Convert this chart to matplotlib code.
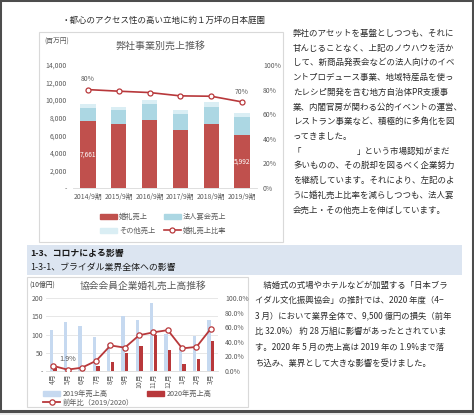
import matplotlib
matplotlib.use("Agg")
import matplotlib.pyplot as plt
from matplotlib.patches import Rectangle, Patch
from matplotlib.lines import Line2D
from matplotlib.ticker import FuncFormatter, MultipleLocator

plt.rcParams['font.family'] = ['Noto Sans CJK JP', 'DejaVu Sans']

# ---------------- data ----------------
periods = ['2014/9期', '2015/9期', '2016/9期', '2017/9期', '2018/9期', '2019/9期']
wedding_sales = [7661, 7300, 7720, 6580, 7260, 5992]
corporate_sales = [1500, 1590, 1810, 1860, 2010, 2070]
other_sales = [410, 380, 460, 410, 530, 490]
wedding_ratio = [0.80, 0.787, 0.776, 0.749, 0.746, 0.70]
bar_value_labels = ['7,661', '', '', '', '', '5,992']
ratio_labels = ['80%', '', '', '', '', '70%']

months = ['4月', '5月', '6月', '7月', '8月', '9月', '10月', '11月', '12月', '1月', '2月', '3月']
sales_2019 = [112, 133, 123, 94, 74, 150, 141, 187, 101, 59, 95, 139]
sales_2020 = [8, 2.5, 6, 14, 26, 48, 69, 98, 57, 19, 33, 82]
yoy_ratio = [0.07, 0.019, 0.045, 0.14, 0.35, 0.32, 0.49, 0.53, 0.56, 0.31, 0.33, 0.58]
yoy_labels = ['', '1.9%', '', '', '', '', '', '', '', '', '', '']

heading_top = '・都心のアクセス性の高い立地に約１万坪の日本庭園'
para_top = [
    '弊社のアセットを基盤としつつも、それに',
    '甘んじることなく、上記のノウハウを活か',
    'して、新商品発表会などの法人向けのイベ',
    'ントプロデュース事業、地域特産品を使っ',
    'たレシピ開発を含む地方自治体PR支援事',
    '業、内閣官房が関わる公的イベントの運営、',
    'レストラン事業など、積極的に多角化を図',
    'ってきました。',
    '',
    '多いものの、その脱却を図るべく企業努力',
    'を継続しています。それにより、左記のよ',
    'うに婚礼売上比率を減らしつつも、法人宴',
    '会売上・その他売上を伸ばしています。',
]
section1 = '1-3、コロナによる影響'
section2 = '1-3-1、ブライダル業界全体への影響'
para_bottom = [
    '　結婚式の式場やホテルなどが加盟する「日本ブラ',
    'イダル文化振興協会」の推計では、2020 年度（4−',
    '3 月）において業界全体で、9,500 億円の損失（前年',
    '比 32.0%） 約 28 万組に影響があったとされていま',
    'す。2020 年 5 月の売上高は 2019 年の 1.9%まで落',
    'ち込み、業界として大きな影響を受けました。',
]

# ---------------- layout helpers ----------------
W, H = 474, 415
fig = plt.figure(figsize=(W / 100, H / 100), dpi=100)
fig.patch.set_facecolor('white')

def fx(x):
    return x / W

def fy(y):
    return 1 - y / H

def ax_at(x0, y0, x1, y1):
    return fig.add_axes([fx(x0), fy(y1), (x1 - x0) / W, (y1 - y0) / H])

def rect(x0, y0, x1, y1, **kw):
    fig.patches.append(Rectangle((fx(x0), fy(y1)), (x1 - x0) / W, (y1 - y0) / H,
                                 transform=fig.transFigure, **kw))

# page frame
rect(0, 0, 474, 415, facecolor='#ececec', edgecolor='none', zorder=-10)
rect(0, 0, 473, 411, facecolor='white', edgecolor='#4d4d4d', linewidth=2.2, zorder=-9)
# chart boxes and section band
rect(39, 32, 283, 242, facecolor='white', edgecolor='#d9d9d9', linewidth=0.8, zorder=-8)
rect(27, 245, 462, 275, facecolor='#dce5f1', edgecolor='none', zorder=-8)
rect(27, 277, 248, 407, facecolor='white', edgecolor='#d9d9d9', linewidth=0.8, zorder=-8)

body_fs = 6.1
body_col = '#2b2b2b'
gray = '#595959'

fig.text(fx(62), fy(20), heading_top, fontsize=body_fs, color=body_col, va='center')
for i, line in enumerate(para_top):
    fig.text(fx(293), fy(33.3 + 14.72 * i), line, fontsize=body_fs, color=body_col, va='center')
fig.text(fx(293), fy(33.3 + 14.72 * 8), '「', fontsize=body_fs, color=body_col, va='center')
fig.text(fx(357), fy(33.3 + 14.72 * 8), '」という市場認知がまだ', fontsize=body_fs, color=body_col, va='center')

fig.text(fx(30), fy(253.5), section1, fontsize=6.4, color='#1a1a1a', va='center', fontweight='bold')
fig.text(fx(30), fy(267), section2, fontsize=6.4, color='#1a1a1a', va='center')
for i, line in enumerate(para_bottom):
    fig.text(fx(255), fy(285 + 15.6 * i), line, fontsize=6.0, color=body_col, va='center')

# ---------------- top chart ----------------
red = '#c0504d'
blue1 = '#acd7e3'
blue2 = '#daeef4'
line_red = '#b8383b'

ax = ax_at(72.6, 65, 257.4, 188)
x = list(range(len(periods)))
bw = 0.49
b1 = ax.bar(x, wedding_sales, bw, color=red, zorder=2)
bottom2 = [w for w in wedding_sales]
b2 = ax.bar(x, corporate_sales, bw, bottom=bottom2, color=blue1, zorder=2)
bottom3 = [w + c for w, c in zip(wedding_sales, corporate_sales)]
b3 = ax.bar(x, other_sales, bw, bottom=bottom3, color=blue2, zorder=2)
ax.bar_label(b1, labels=bar_value_labels, label_type='center', color='white', fontsize=4.8)
ax.set_ylim(0, 14000)
ax.set_xlim(-0.5, len(periods) - 0.5)
ax.yaxis.set_major_locator(MultipleLocator(2000))
ax.yaxis.set_major_formatter(FuncFormatter(lambda v, p: '-' if v == 0 else f'{int(v):,}'))
ax.set_xticks(x)
ax.set_xticklabels(periods)
ax.tick_params(axis='both', length=0, labelsize=4.9, colors=gray)
ax.tick_params(axis='y', pad=4)
ax.tick_params(axis='x', pad=3.5)
for s in ['top', 'right', 'left']:
    ax.spines[s].set_visible(False)
ax.spines['bottom'].set_color('#d9d9d9')
ax.spines['bottom'].set_linewidth(0.6)

ax2 = ax.twinx()
l1, = ax2.plot(x, wedding_ratio, color=line_red, lw=1.2, marker='o', ms=3.6,
               mfc='white', mec=line_red, mew=0.9, zorder=3)
ax2.set_ylim(0, 1)
ax2.yaxis.set_major_locator(MultipleLocator(0.2))
ax2.yaxis.set_major_formatter(FuncFormatter(lambda v, p: f'{v * 100:.0f}%'))
ax2.tick_params(axis='y', length=0, labelsize=4.9, colors=gray, pad=4)
for s in ax2.spines.values():
    s.set_visible(False)
for xi, yv, lab in zip(x, wedding_ratio, ratio_labels):
    if lab:
        ax2.annotate(lab, (xi, yv), xytext=(0, 7.3), textcoords='offset points',
                     ha='center', va='center', fontsize=4.9, color=gray)

fig.text(fx(160), fy(46), '弊社事業別売上推移', fontsize=7.2, color=gray, ha='center', va='center')
fig.text(fx(44), fy(42), '(百万円)', fontsize=4.9, color=gray, ha='left', va='center')

def legend_item(handle, label, x0, y0, fs=5.2, hl=2.3):
    lg = fig.legend([handle], [label], loc='center left',
                    bbox_to_anchor=(fx(x0), fy(y0)), frameon=False, fontsize=fs,
                    handlelength=hl, handleheight=0.7, handletextpad=0.35,
                    borderpad=0, borderaxespad=0, labelcolor=gray)
    return lg

legend_item(Patch(color=red), '婚礼売上', 100, 217)
legend_item(Patch(color=blue1), '法人宴会売上', 164, 217)
legend_item(Patch(color=blue2), 'その他売上', 100, 231)
legend_item(Line2D([], [], color=line_red, lw=1.2, marker='o', ms=3.6, mfc='white',
                   mec=line_red, mew=0.9), '婚礼売上比率', 164, 231)

# ---------------- bottom chart ----------------
lb = '#c6d9f0'
red2 = '#b8383b'
bx = ax_at(46, 298, 218, 371)
m = list(range(len(months)))
w2 = 0.25
bx.bar([i - 0.13 for i in m], sales_2019, w2, color=lb, zorder=2)
bx.bar([i + 0.13 for i in m], sales_2020, w2, color=red2, zorder=2)
bx.set_ylim(0, 200)
bx.set_xlim(-0.5, len(months) - 0.5)
bx.yaxis.set_major_locator(MultipleLocator(50))
bx.yaxis.set_major_formatter(FuncFormatter(lambda v, p: '-' if v == 0 else f'{int(v)}'))
bx.grid(axis='y', color='#e3e3e3', lw=0.6, zorder=0)
bx.set_axisbelow(True)
bx.set_xticks(m)
bx.set_xticklabels(months, rotation=90)
bx.tick_params(axis='both', length=0, labelsize=4.9, colors=gray)
bx.tick_params(axis='y', pad=2)
bx.tick_params(axis='x', pad=2)
for s in ['top', 'right', 'left']:
    bx.spines[s].set_visible(False)
bx.spines['bottom'].set_color('#d9d9d9')
bx.spines['bottom'].set_linewidth(0.6)

bx2 = bx.twinx()
bx2.plot(m, yoy_ratio, color=red2, lw=1.3, marker='o', ms=3.8, mfc='white',
         mec=red2, mew=0.9, zorder=3)
bx2.set_ylim(0, 1)
bx2.yaxis.set_major_locator(MultipleLocator(0.2))
bx2.yaxis.set_major_formatter(FuncFormatter(lambda v, p: f'{v * 100:.1f}%'))
bx2.tick_params(axis='y', length=0, labelsize=4.9, colors=gray, pad=5)
for s in bx2.spines.values():
    s.set_visible(False)
for xi, yv, lab in zip(m, yoy_ratio, yoy_labels):
    if lab:
        bx2.annotate(lab, (xi, yv), xytext=(0, 7.6), textcoords='offset points',
                     ha='center', va='center', fontsize=5.2, color=gray)

fig.text(fx(143), fy(286), '協会会員企業婚礼売上高推移', fontsize=7.0, color=gray, ha='center', va='center')
fig.text(fx(29), fy(285), '(10億円)', fontsize=4.9, color='#404040', ha='left', va='center')

legend_item(Patch(color=lb), '2019年売上高', 43, 394, fs=5.2, hl=2.4)
legend_item(Patch(color=red2), '2020年売上高', 147, 394, fs=5.2, hl=2.4)
legend_item(Line2D([], [], color=red2, lw=1.3, marker='o', ms=3.8, mfc='white',
                   mec=red2, mew=0.9), '前年比（2019/2020）', 43, 403, fs=5.2, hl=2.4)

fig.savefig('out.png', dpi=100, facecolor=fig.get_facecolor())
